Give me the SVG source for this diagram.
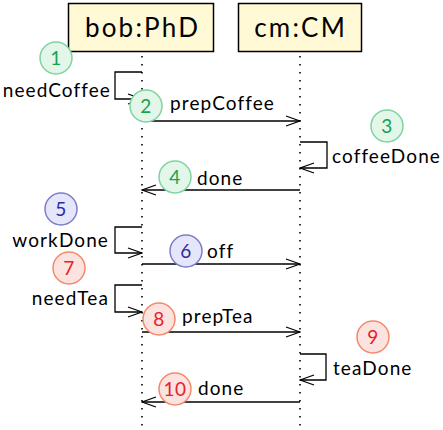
<svg xmlns="http://www.w3.org/2000/svg" width="443" height="430" viewBox="0 0 443 430">
<style>
.box{fill:#fff9d6;stroke:#000;stroke-width:1.5}
.lt{font-family:Lato,"Liberation Sans",sans-serif;font-size:26px;letter-spacing:2.2px;fill:#000}
.msg{font-family:Lato,"Liberation Sans",sans-serif;font-size:19px;letter-spacing:1.1px;fill:#000}
.life{stroke:#000;stroke-width:1.6;stroke-dasharray:1.6 6.4;fill:none}
.ln{stroke:#000;stroke-width:1.3;fill:none}
.g circle{fill:#e3f6ea;stroke:#7ed3a0;stroke-width:1.5}
.g text{fill:#17a34a}
.b circle{fill:#e6e6fa;stroke:#7d7dcc;stroke-width:1.5}
.b text{fill:#2b2b9b}
.r circle{fill:#fde3e0;stroke:#f3896b;stroke-width:1.5}
.r text{fill:#e8202a}
.num{font-family:Lato,"Liberation Sans",sans-serif;font-size:19px;letter-spacing:0.5px;text-anchor:middle}
</style>
<defs>
<marker id="ah" markerWidth="16" markerHeight="12" refX="15" refY="6" orient="auto" markerUnits="userSpaceOnUse">
<path d="M1,1 L15,6 L1,11" fill="none" stroke="#000" stroke-width="1.3"/>
</marker>
</defs>
<g id="bob">
<rect class="box" x="68.5" y="3.5" width="145" height="48"/>
<text class="lt" x="142.6" y="37" text-anchor="middle">bob:PhD</text>
</g>
<g id="cm">
<rect class="box" x="238.5" y="3.5" width="123" height="48"/>
<text class="lt" x="300.6" y="37" text-anchor="middle">cm:CM</text>
</g>
<g id="lifelines">
<line class="life" x1="142" y1="56" x2="142" y2="430"/>
<line class="life" x1="300" y1="56" x2="300" y2="430"/>
</g>
<g id="connectors">
<path class="ln" d="M142,72 H115 V99 H142" marker-end="url(#ah)"/>
<path class="ln" d="M142,121 H300" marker-end="url(#ah)"/>
<path class="ln" d="M300,142 H327 V168 H300" marker-end="url(#ah)"/>
<path class="ln" d="M300,190 H142" marker-end="url(#ah)"/>
<path class="ln" d="M142,227 H115 V253 H142" marker-end="url(#ah)"/>
<path class="ln" d="M142,264 H300" marker-end="url(#ah)"/>
<path class="ln" d="M142,285 H115 V312 H142" marker-end="url(#ah)"/>
<path class="ln" d="M142,332 H300" marker-end="url(#ah)"/>
<path class="ln" d="M300,354 H326 V380 H300" marker-end="url(#ah)"/>
<path class="ln" d="M300,402 H142" marker-end="url(#ah)"/>
</g>
<g id="labels">
<text class="msg" x="111" y="97" text-anchor="end">needCoffee</text>
<text class="msg" x="170" y="110">prepCoffee</text>
<text class="msg" x="332" y="163">coffeeDone</text>
<text class="msg" x="197" y="185">done</text>
<text class="msg" x="109" y="247" text-anchor="end">workDone</text>
<text class="msg" x="207" y="258">off</text>
<text class="msg" x="109" y="305" text-anchor="end">needTea</text>
<text class="msg" x="182" y="323">prepTea</text>
<text class="msg" x="333" y="375">teaDone</text>
<text class="msg" x="198" y="395">done</text>
</g>
<g id="step1" class="g"><circle cx="56" cy="58" r="16"/><text class="num" x="56" y="65">1</text></g>
<g id="step2" class="g"><circle cx="146" cy="106" r="16"/><text class="num" x="146" y="113">2</text></g>
<g id="step3" class="g"><circle cx="387" cy="126" r="16"/><text class="num" x="387" y="133">3</text></g>
<g id="step4" class="g"><circle cx="175" cy="177" r="16"/><text class="num" x="175" y="184">4</text></g>
<g id="step5" class="b"><circle cx="61" cy="209" r="16"/><text class="num" x="61" y="216">5</text></g>
<g id="step6" class="b"><circle cx="186" cy="251" r="16"/><text class="num" x="186" y="258">6</text></g>
<g id="step7" class="r"><circle cx="69" cy="268" r="16"/><text class="num" x="69" y="275">7</text></g>
<g id="step8" class="r"><circle cx="159" cy="319" r="16"/><text class="num" x="159" y="326">8</text></g>
<g id="step9" class="r"><circle cx="373" cy="337" r="16"/><text class="num" x="373" y="344">9</text></g>
<g id="step10" class="r"><circle cx="175" cy="389" r="16"/><text class="num" x="175" y="396">10</text></g>
</svg>
